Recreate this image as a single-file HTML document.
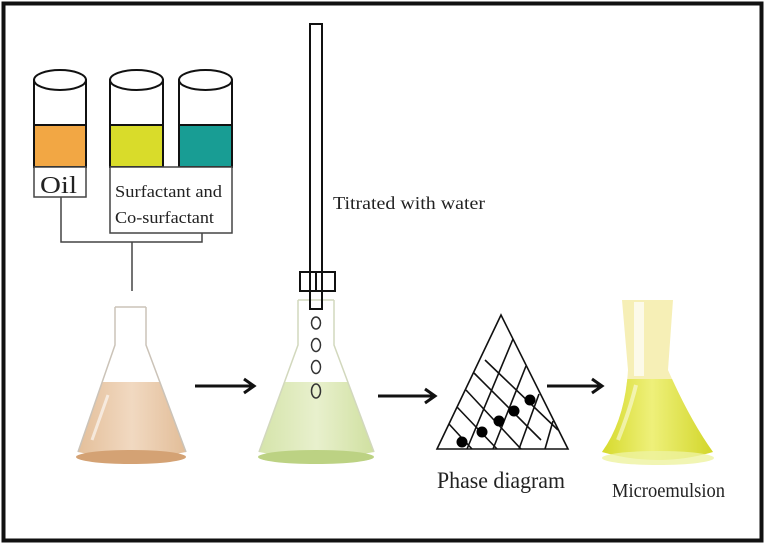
<!DOCTYPE html>
<html><head><meta charset="utf-8"><style>
html,body{margin:0;padding:0;background:#fff;}
svg{display:block;}
text{font-family:"Liberation Serif",serif;fill:#222;}
</style></head><body>
<svg width="767" height="545" viewBox="0 0 767 545" xmlns="http://www.w3.org/2000/svg">
<defs>
<linearGradient id="g1" x1="0" x2="1"><stop offset="0" stop-color="#e4bf9a"/><stop offset="0.5" stop-color="#f1d9c1"/><stop offset="1" stop-color="#e2bd98"/></linearGradient>
<linearGradient id="g2" x1="0" x2="1"><stop offset="0" stop-color="#d5e4aa"/><stop offset="0.5" stop-color="#e8f0cd"/><stop offset="1" stop-color="#d0e0a0"/></linearGradient>
<linearGradient id="g3" x1="0" x2="1"><stop offset="0" stop-color="#d6da2c"/><stop offset="0.45" stop-color="#eef07a"/><stop offset="1" stop-color="#d2d62a"/></linearGradient>
<clipPath id="c1"><rect x="0" y="382" width="767" height="100"/></clipPath>
<clipPath id="c3"><rect x="0" y="379" width="767" height="100"/></clipPath>
</defs>
<rect x="3.5" y="3.5" width="758" height="537" fill="#fff" stroke="#111" stroke-width="4"/>

<!-- cylinders -->
<g stroke="#111" stroke-width="2" fill="#fff">
<rect x="34" y="80" width="52" height="87"/>
<rect x="34" y="125" width="52" height="42" fill="#f2a744"/>
<ellipse cx="60" cy="80" rx="26" ry="10"/>
<rect x="110" y="80" width="53" height="87"/>
<rect x="110" y="125" width="53" height="42" fill="#d9dc2a"/>
<ellipse cx="136.5" cy="80" rx="26.5" ry="10"/>
<rect x="179" y="80" width="53" height="87"/>
<rect x="179" y="125" width="53" height="42" fill="#189d94"/>
<ellipse cx="205.5" cy="80" rx="26.5" ry="10"/>
</g>
<g stroke="#444" stroke-width="1.5" fill="#fff">
<rect x="34" y="167" width="52" height="30"/>
<rect x="110" y="167" width="122" height="66"/>
<polyline fill="none" points="61,197 61,242 202,242 202,233"/>
<line x1="132" y1="242" x2="132" y2="291"/>
</g>
<text x="40" y="193" font-size="24" textLength="37" lengthAdjust="spacingAndGlyphs">Oil</text>
<text x="115" y="197" font-size="17" textLength="107" lengthAdjust="spacingAndGlyphs">Surfactant and</text>
<text x="115" y="223" font-size="17" textLength="99" lengthAdjust="spacingAndGlyphs">Co-surfactant</text>

<!-- flask 1 -->
<path d="M115,307 L115,345 L78,452 Q131,464 186,452 L146,345 L146,307 Z" fill="url(#g1)" clip-path="url(#c1)"/>
<ellipse cx="131" cy="457" rx="55" ry="7" fill="#d4a274"/>
<path d="M115,307 L115,345 L78,452 M146,307 L146,345 L186,452 M115,307 L146,307" fill="none" stroke="#cbc3b8" stroke-width="1.5"/>
<path d="M92,440 L108,395" stroke="#fff" stroke-width="3" opacity="0.6"/>

<!-- arrow1 -->
<g stroke="#111" stroke-width="3" fill="none"><line x1="195" y1="386" x2="253" y2="386"/><polyline points="244,379 254,386 244,393"/></g>

<!-- flask 2 -->
<path d="M298,300 L298,345 L259,452 Q316,464 374,452 L334,345 L334,300 Z" fill="url(#g2)" clip-path="url(#c1)"/>
<ellipse cx="316" cy="457" rx="58" ry="7" fill="#bcd283"/>
<path d="M298,300 L298,345 L259,452 M334,300 L334,345 L374,452 M298,300 L334,300" fill="none" stroke="#d2d8bd" stroke-width="1.5"/>
<!-- burette -->
<g stroke="#111" stroke-width="2" fill="none">
<rect x="310" y="24" width="12" height="285"/>
<rect x="300" y="272" width="35" height="19"/>
<line x1="316" y1="272" x2="316" y2="291"/>
</g>
<g stroke="#333" stroke-width="1.5" fill="none">
<ellipse cx="316" cy="323" rx="4.5" ry="6"/>
<ellipse cx="316" cy="345" rx="4.5" ry="6.5"/>
<ellipse cx="316" cy="367" rx="4.5" ry="6.5"/>
<ellipse cx="316" cy="391" rx="4.5" ry="7"/>
</g>
<text x="333" y="209" font-size="18" textLength="152" lengthAdjust="spacingAndGlyphs">Titrated with water</text>

<!-- arrow2 -->
<g stroke="#111" stroke-width="3" fill="none"><line x1="378" y1="396" x2="434" y2="396"/><polyline points="425,389 435,396 425,403"/></g>

<!-- triangle -->
<g stroke="#111" stroke-width="1.6" fill="none">
<polygon points="501,315 437,449 568,449"/>
<line x1="467" y1="449" x2="513" y2="339"/>
<line x1="493" y1="449" x2="526" y2="366"/>
<line x1="519" y1="449" x2="539" y2="394"/>
<line x1="545" y1="449" x2="553" y2="421"/>
<line x1="485" y1="360" x2="558" y2="430"/>
<line x1="474" y1="373" x2="541" y2="440" />
<line x1="466" y1="390" x2="521" y2="449"/>
<line x1="457" y1="407" x2="497" y2="449"/>
<line x1="449" y1="424" x2="472" y2="449"/>
</g>
<g fill="#000">
<circle cx="462" cy="442" r="5.5"/><circle cx="482" cy="432" r="5.5"/><circle cx="499" cy="421" r="5.5"/><circle cx="514" cy="411" r="5.5"/><circle cx="530" cy="400" r="5.5"/>
</g>
<text x="437" y="488" font-size="23" textLength="128" lengthAdjust="spacingAndGlyphs">Phase diagram</text>

<!-- arrow3 -->
<g stroke="#111" stroke-width="3" fill="none"><line x1="547" y1="386" x2="601" y2="386"/><polyline points="592,379 602,386 592,393"/></g>

<!-- flask 3 -->
<path d="M622,300 L673,300 L668,370 Q690,420 713,452 Q658,468 602,452 Q625,420 628,370 Z" fill="#f6efb6"/>
<path d="M622,300 L673,300 L668,370 Q690,420 713,452 Q658,468 602,452 Q625,420 628,370 Z" fill="url(#g3)" clip-path="url(#c3)"/>
<rect x="634" y="302" width="10" height="74" fill="#fff" opacity="0.7"/>
<path d="M618,440 Q630,410 636,385" stroke="#fff" stroke-width="4" fill="none" opacity="0.5"/>
<ellipse cx="658" cy="458" rx="56" ry="7" fill="#eef3a0" opacity="0.8"/>
<text x="612" y="497" font-size="20" textLength="113" lengthAdjust="spacingAndGlyphs">Microemulsion</text>
</svg>
</body></html>
